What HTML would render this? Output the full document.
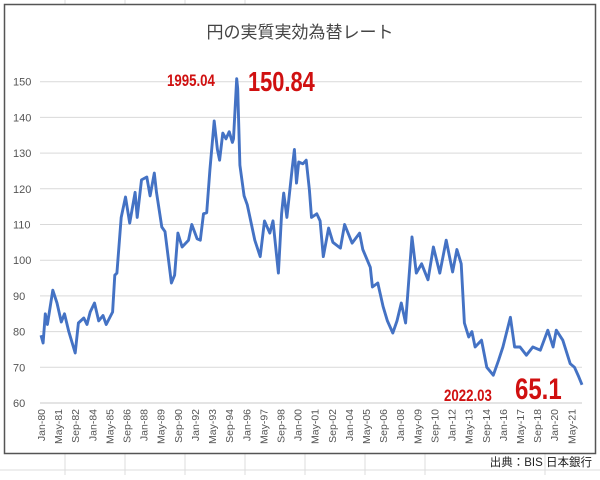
<!DOCTYPE html>
<html><head><meta charset="utf-8"><style>
body{margin:0;width:600px;height:475px;background:#fff;overflow:hidden;font-family:"Liberation Sans","Noto Sans CJK JP",sans-serif}
</style></head><body>
<svg id="c" width="600" height="475" viewBox="0 0 600 475" xmlns="http://www.w3.org/2000/svg">
<g id="sheet" stroke="#dcdcdc" stroke-width="1">
<line x1="0" y1="470" x2="600" y2="470"/><line x1="65" y1="454" x2="65" y2="475"/><line x1="125" y1="454" x2="125" y2="475"/><line x1="185" y1="454" x2="185" y2="475"/><line x1="245" y1="454" x2="245" y2="475"/><line x1="305" y1="454" x2="305" y2="475"/><line x1="365" y1="454" x2="365" y2="475"/><line x1="425" y1="454" x2="425" y2="475"/><line x1="545" y1="454" x2="545" y2="475"/>
<line x1="65" y1="0" x2="65" y2="4"/><line x1="125" y1="0" x2="125" y2="4"/><line x1="185" y1="0" x2="185" y2="4"/><line x1="245" y1="0" x2="245" y2="4"/>
</g>
<rect x="4.5" y="4.5" width="591" height="449" fill="#fff" stroke="#555" stroke-width="1.5"/>
<text x="300" y="38" text-anchor="middle" font-size="17" fill="#444">円の実質実効為替レート</text>
<g id="grid"></g><g id="ylab"></g><g id="xlab"></g>
<path id="line" fill="none" stroke="#4472c4" stroke-width="2.9" stroke-linejoin="round"/>
<text x="167" y="86" font-size="17" font-weight="bold" fill="#d01010" transform="translate(167,86) scale(0.78,1) translate(-167,-86)">1995.04</text>
<text x="248" y="91" font-size="28" font-weight="bold" fill="#d01010" transform="translate(248,91) scale(0.78,1) translate(-248,-91)">150.84</text>
<text x="444" y="401" font-size="17" font-weight="bold" fill="#d01010" transform="translate(444,401) scale(0.78,1) translate(-444,-401)">2022.03</text>
<text x="515" y="399" font-size="30" font-weight="bold" fill="#d01010" transform="translate(515,399) scale(0.8,1) translate(-515,-399)">65.1</text>
<text x="592" y="466" text-anchor="end" font-size="11.5" fill="#222">出典：BIS  日本銀行</text>
</svg>
<script>
const months=[0,2,4,6,11,15,19,22,26,32,35,40,43,46,50,54,58,61,67,69,71,75,79,83,88,90,94,99,102,106,108,113,116,122,125,128,132,138,141,146,149,152,155,158,162,165,167,170,173,176,179,180,183,184,186,190,193,195,200,205,209,214,217,222,225,227,230,235,237,239,241,245,248,251,253,258,261,264,269,273,280,284,291,298,301,308,310,315,320,324,329,333,337,341,347,351,356,362,367,373,379,385,389,393,396,400,403,406,412,417,423,428,432,439,443,448,454,460,467,474,479,482,488,495,499,503,506];
const values=[79,76.8,85,82,91.6,88,82.7,85,80,74,82.4,83.8,82,85.5,88,83,84.5,82,85.5,95.8,96.4,112,117.7,110.4,119,112,122.5,123.3,118,124.4,119,109.3,108,93.6,95.8,107.6,103.7,105.6,110,106,105.6,113,113.3,125.3,139,131,128,135.6,134,136,133,134,150.84,148,126.6,118,115.5,112.6,105.6,101,111,107.6,111,96.4,113,118.8,112,126,131,121.6,127.5,127,128,119.7,112,113,111,101,109,105,103.4,110,104.8,107.6,103,98,92.5,93.6,87,83,79.6,83,88,82.4,106.5,96.4,99,94.5,103.7,96.4,105.6,96.7,103,99,82.4,78.5,80,75.7,77.6,70,67.8,72,75.7,84,75.7,75.7,73.4,75.7,74.8,80.4,75.7,80.4,77.6,71,70,67.3,65.1];
const yTicks=[60,70,80,90,100,110,120,130,140,150];
const xTickLabels=["Jan-80","May-81","Sep-82","Jan-84","May-85","Sep-86","Jan-88","May-89","Sep-90","Jan-92","May-93","Sep-94","Jan-96","May-97","Sep-98","Jan-00","May-01","Sep-02","Jan-04","May-05","Sep-06","Jan-08","May-09","Sep-10","Jan-12","May-13","Sep-14","Jan-16","May-17","Sep-18","Jan-20","May-21"];
const NS="http://www.w3.org/2000/svg";
const X=m=>41+m*(541/506);
const Y=v=>403-(v-60)*3.57;
const g=document.getElementById('grid'),yl=document.getElementById('ylab'),xl=document.getElementById('xlab');
yTicks.forEach(t=>{
 const l=document.createElementNS(NS,'line');
 l.setAttribute('x1',40);l.setAttribute('x2',582);l.setAttribute('y1',Y(t));l.setAttribute('y2',Y(t));
 l.setAttribute('stroke',t===60?'#c8c8c8':'#d9d9d9');l.setAttribute('stroke-width',1);
 
 
 g.appendChild(l);
 const tx=document.createElementNS(NS,'text');
 tx.setAttribute('x',13);tx.setAttribute('y',Y(t)+4);tx.setAttribute('font-size',11);tx.setAttribute('fill','#555');
 tx.textContent=t;
 
 
 yl.appendChild(tx);
});
xTickLabels.forEach((s,i)=>{
 const x=X(i*16);
 const tx=document.createElementNS(NS,'text');
 tx.setAttribute('transform','translate('+(x+4)+',409) rotate(-90)');
 tx.setAttribute('text-anchor','end');tx.setAttribute('font-size',10.5);tx.setAttribute('fill','#555');
 tx.textContent=s;
 
 
 xl.appendChild(tx);
});
document.getElementById('line').setAttribute('d',months.map((m,i)=>(i?'L':'M')+X(m).toFixed(1)+' '+Y(values[i]).toFixed(1)).join(' '));
</script>
</body></html>
